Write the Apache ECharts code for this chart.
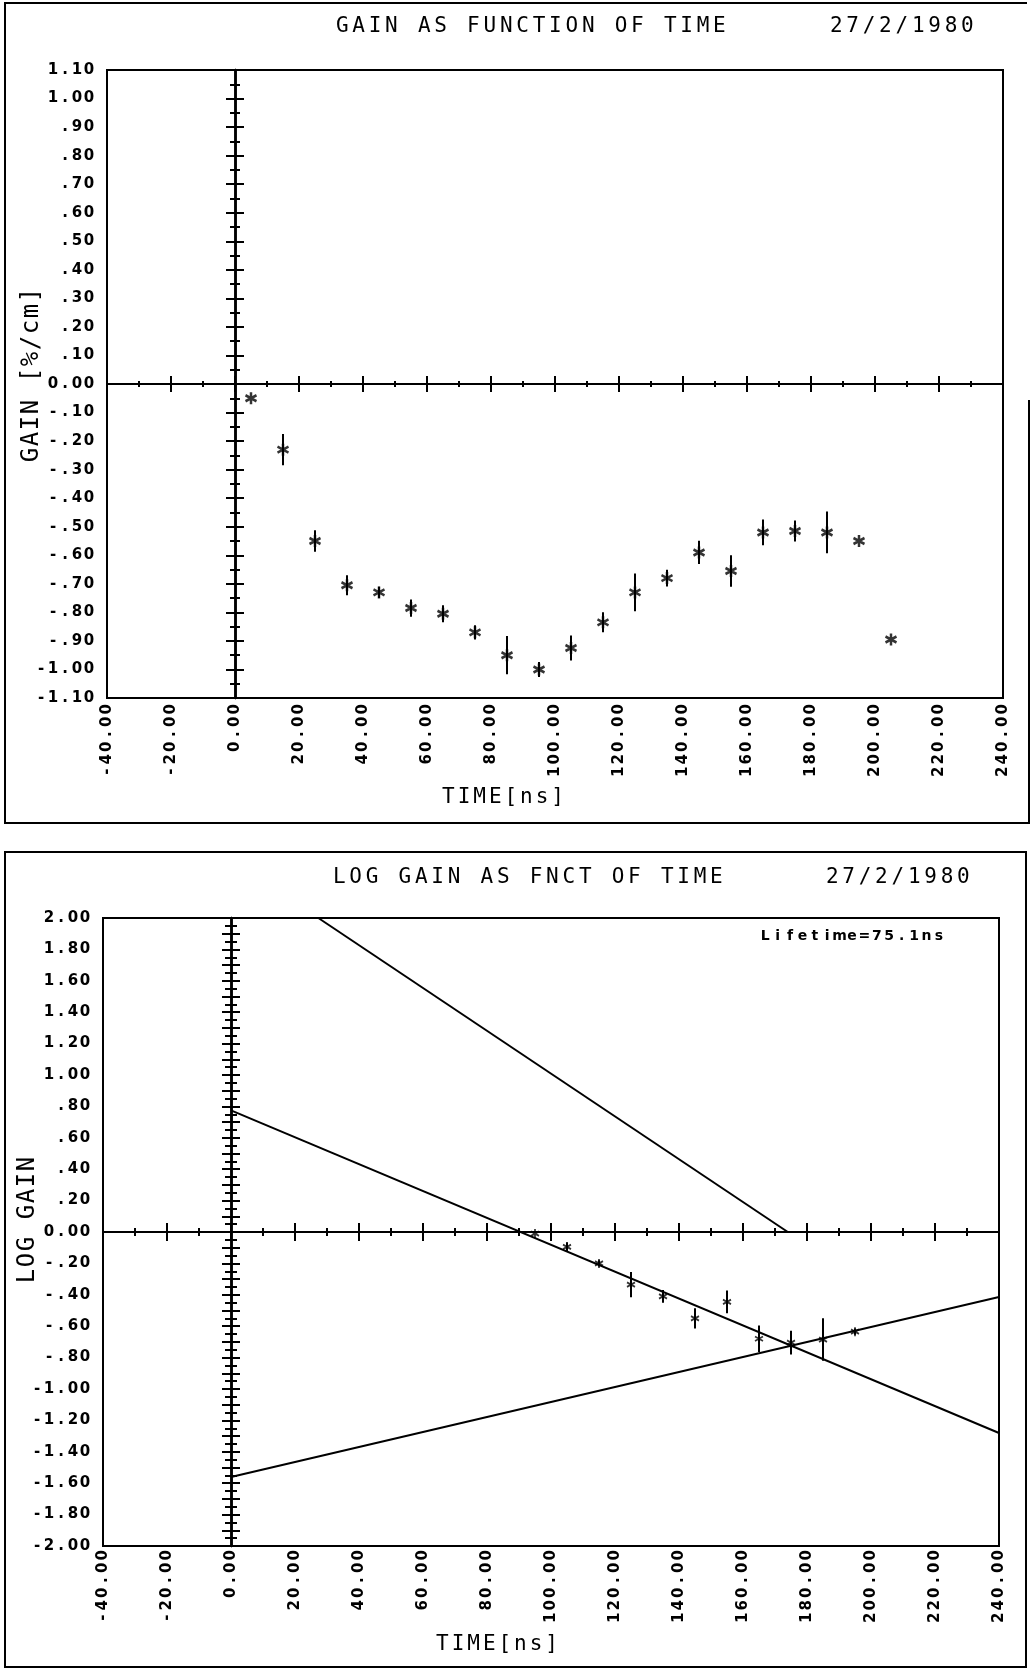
<!DOCTYPE html>
<html>
<head>
<meta charset="utf-8">
<script src="https://cdn.jsdelivr.net/npm/echarts@6/dist/echarts.min.js"></script>
<style>
  html, body { margin: 0; padding: 0; background: #fff; }
  #chart { width: 1030px; height: 1669px; }
</style>
</head>
<body>
<div id="chart"></div>
<script>
// ---- Gain measurements (27/2/1980) ----
const gainTimes  = [5, 15, 25, 35, 45, 55, 65, 75, 85, 95, 105, 115, 125, 135, 145, 155, 165, 175, 185, 195, 205];
const gainValues = [-0.05, -0.23, -0.55, -0.705, -0.73, -0.785, -0.805, -0.87, -0.95, -1.0, -0.925,
                    -0.835, -0.73, -0.68, -0.59, -0.655, -0.52, -0.515, -0.52, -0.55, -0.895];
const gainErrors = [0, 0.055, 0.038, 0.035, 0.02, 0.03, 0.03, 0.025, 0.067, 0.026, 0.044,
                    0.035, 0.066, 0.029, 0.041, 0.055, 0.045, 0.037, 0.073, 0, 0];

// ---- Log gain of the decaying part ----
const logTimes  = [95, 105, 115, 125, 135, 145, 155, 165, 175, 185, 195];
const logValues = [-0.01, -0.095, -0.2, -0.335, -0.41, -0.55, -0.445, -0.68, -0.705, -0.685, -0.635];
const logErrors = [0, 0.03, 0.02, 0.08, 0.04, 0.064, 0.072, 0.085, 0.076, 0.135, 0.02];

// Straight lines of the fit (time ns, log gain)
const fitLine      = [[0, 0.775], [240, -1.28]];
const lifetimeLine = [[27.3, 2.0], [174, 0.0]];
const riseLine     = [[0, -1.56], [240, -0.414]];

// ---- Tick labels ----
const timeTickLabels = ['-40.00', '-20.00', '0.00', '20.00', '40.00', '60.00', '80.00', '100.00',
                        '120.00', '140.00', '160.00', '180.00', '200.00', '220.00', '240.00'];
const gainTickLabels = ['-1.10', '-1.00', '-.90', '-.80', '-.70', '-.60', '-.50', '-.40', '-.30', '-.20', '-.10',
                        '0.00', '.10', '.20', '.30', '.40', '.50', '.60', '.70', '.80', '.90', '1.00', '1.10'];
const logTickLabels  = ['-2.00', '-1.80', '-1.60', '-1.40', '-1.20', '-1.00', '-.80', '-.60', '-.40', '-.20',
                        '0.00', '.20', '.40', '.60', '.80', '1.00', '1.20', '1.40', '1.60', '1.80', '2.00'];

const SANS = 'DejaVu Sans';
const MONO = 'DejaVu Sans Mono';
const INK = '#000';

// Fixed-pitch plotter lettering: every character in its own box of equal width
function spaced(str, key) {
  return str.split('').map(function (ch) { return '{' + key + '|' + ch + '}'; }).join('');
}
function pick(labels, min, step) {
  return function (v) {
    const s = labels[Math.round((v - min) / step)];
    return s === undefined ? '' : spaced(s, 't');
  };
}

const STAR = 'path://M5,0L5,10M0.67,2.5L9.33,7.5M0.67,7.5L9.33,2.5';

function zip2(xs, ys) { return xs.map(function (x, i) { return [x, ys[i]]; }); }
function zip3(xs, ys, es) { return xs.map(function (x, i) { return [x, ys[i], es[i]]; }); }

function errorBars(params, api) {
  const e = api.value(2);
  if (!e) return null;
  const x = api.value(0), y = api.value(1);
  const p1 = api.coord([x, y - e]);
  const p2 = api.coord([x, y + e]);
  return {
    type: 'line',
    shape: { x1: p1[0], y1: p1[1], x2: p2[0], y2: p2[1] },
    style: { stroke: INK, lineWidth: 2 }
  };
}

// ---- Axis builders ----
function labelXAxis(grid, margin) {
  return {
    type: 'value', gridIndex: grid, position: 'bottom', min: -40, max: 240, interval: 20,
    axisLine: { show: false, onZero: false },
    axisTick: { show: false },
    splitLine: { show: false },
    axisLabel: {
      rotate: 90, margin: margin,
      formatter: pick(timeTickLabels, -40, 20),
      rich: { t: { fontFamily: SANS, fontWeight: 'bold', fontSize: 15, width: 12.5, align: 'center', color: INK } }
    }
  };
}
function zeroXAxis(grid, yIndex, inside, majorLen, minorLen) {
  return {
    type: 'value', gridIndex: grid, position: 'bottom', min: -40, max: 240, interval: 20,
    axisLine: { show: true, onZero: true, onZeroAxisIndex: yIndex, lineStyle: { color: INK, width: 2 } },
    axisTick: { show: true, inside: inside, length: majorLen, lineStyle: { color: INK, width: 2 } },
    minorTick: { show: true, splitNumber: 2, length: minorLen, lineStyle: { color: INK, width: 2 } },
    axisLabel: { show: false },
    splitLine: { show: false },
    minorSplitLine: { show: false }
  };
}
function labelYAxis(grid, min, max, step, labels, margin) {
  return {
    type: 'value', gridIndex: grid, position: 'left', min: min, max: max, interval: step,
    axisLine: { show: false, onZero: false },
    axisTick: { show: false },
    splitLine: { show: false },
    axisLabel: {
      margin: margin,
      formatter: pick(labels, min, step),
      rich: { t: { fontFamily: SANS, fontWeight: 'bold', fontSize: 15, width: 12, align: 'center', color: INK } }
    }
  };
}
function zeroYAxis(grid, xIndex, min, max, inside, majorLen, minorLen) {
  return {
    type: 'value', gridIndex: grid, position: 'left', min: min, max: max, interval: 0.1,
    axisLine: { show: true, onZero: true, onZeroAxisIndex: xIndex, lineStyle: { color: INK, width: 2.5 } },
    axisTick: { show: true, inside: inside, length: majorLen, lineStyle: { color: INK, width: 2 } },
    minorTick: { show: true, splitNumber: 2, length: minorLen, lineStyle: { color: INK, width: 2 } },
    axisLabel: { show: false },
    splitLine: { show: false },
    minorSplitLine: { show: false }
  };
}

// ---- Free text (titles, axis names, note) ----
const titleRich = { h: { fontFamily: MONO, fontSize: 21, width: 16.4, align: 'center', fill: INK } };
const nameRich  = { n: { fontFamily: MONO, fontSize: 24, width: 16, align: 'center', fill: INK } };
const timeRich  = { m: { fontFamily: MONO, fontSize: 21, width: 15.6, align: 'center', fill: INK } };
const noteRich  = { s: { fontFamily: SANS, fontWeight: 'bold', fontSize: 14, width: 12.4, align: 'center', fill: INK } };

function label(text, key, rich, x, y, align, rotation) {
  return {
    type: 'text', x: x, y: y, rotation: rotation || 0, z: 10,
    style: {
      text: spaced(text, key), rich: rich,
      align: align, verticalAlign: 'middle',
      textAlign: align, textVerticalAlign: 'middle'
    }
  };
}

const option = {
  animation: false,
  backgroundColor: '#fff',
  grid: [
    { left: 107, top: 70, width: 896, height: 628, show: true, borderColor: INK, borderWidth: 2, containLabel: false },
    { left: 103, top: 918, width: 896, height: 628, show: true, borderColor: INK, borderWidth: 2, containLabel: false }
  ],
  xAxis: [
    labelXAxis(0, 5),
    zeroXAxis(0, 0, true, 8, 3),
    zeroXAxis(0, 0, false, 8, 3),
    labelXAxis(1, 3),
    zeroXAxis(1, 3, true, 9, 4),
    zeroXAxis(1, 3, false, 9, 4)
  ],
  yAxis: [
    labelYAxis(0, -1.1, 1.1, 0.1, gainTickLabels, 12),
    zeroYAxis(0, 0, -1.1, 1.1, true, 9, 5),
    zeroYAxis(0, 0, -1.1, 1.1, false, 9, 5),
    labelYAxis(1, -2, 2, 0.2, logTickLabels, 12),
    zeroYAxis(1, 3, -2, 2, true, 9, 6),
    zeroYAxis(1, 3, -2, 2, false, 9, 6)
  ],
  series: [
    {
      name: 'gain errors', type: 'custom', xAxisIndex: 0, yAxisIndex: 0,
      renderItem: errorBars, data: zip3(gainTimes, gainValues, gainErrors), z: 3
    },
    {
      name: 'gain', type: 'scatter', xAxisIndex: 0, yAxisIndex: 0,
      symbol: STAR, symbolSize: [11, 12],
      itemStyle: { color: 'transparent', borderColor: INK, borderWidth: 2.6 },
      data: zip2(gainTimes, gainValues), z: 4
    },
    {
      name: 'fit', type: 'line', xAxisIndex: 3, yAxisIndex: 3, showSymbol: false, clip: true,
      lineStyle: { color: INK, width: 2 }, data: fitLine, z: 3
    },
    {
      name: 'lifetime', type: 'line', xAxisIndex: 3, yAxisIndex: 3, showSymbol: false, clip: true,
      lineStyle: { color: INK, width: 2 }, data: lifetimeLine, z: 3
    },
    {
      name: 'rise', type: 'line', xAxisIndex: 3, yAxisIndex: 3, showSymbol: false, clip: true,
      lineStyle: { color: INK, width: 2 }, data: riseLine, z: 3
    },
    {
      name: 'log gain errors', type: 'custom', xAxisIndex: 3, yAxisIndex: 3,
      renderItem: errorBars, data: zip3(logTimes, logValues, logErrors), z: 3
    },
    {
      name: 'log gain', type: 'scatter', xAxisIndex: 3, yAxisIndex: 3,
      symbol: STAR, symbolSize: [8, 9],
      itemStyle: { color: 'transparent', borderColor: INK, borderWidth: 1.8 },
      data: zip2(logTimes, logValues), z: 4
    }
  ],
  graphic: [
    // outer frames of the two sheets
    { type: 'polyline', z: 1, shape: { points: [[1029, 400], [1029, 823], [5, 823], [5, 3], [1027, 3]] },
      style: { stroke: INK, lineWidth: 2, fill: null } },
    { type: 'rect', z: 1, shape: { x: 5, y: 852, width: 1021, height: 815 },
      style: { stroke: INK, lineWidth: 2, fill: null } },

    label('GAIN AS FUNCTION OF TIME', 'h', titleRich, 334, 27, 'left'),
    label('27/2/1980', 'h', titleRich, 828, 27, 'left'),
    label('GAIN [%/cm]', 'n', nameRich, 32, 375, 'center', Math.PI / 2),
    label('TIME[ns]', 'm', timeRich, 503, 798, 'center'),

    label('LOG GAIN AS FNCT OF TIME', 'h', titleRich, 331, 878, 'left'),
    label('27/2/1980', 'h', titleRich, 824, 878, 'left'),
    label('Lifetime=75.1ns', 's', noteRich, 759, 936, 'left'),
    label('LOG GAIN', 'n', nameRich, 28, 1220, 'center', Math.PI / 2),
    label('TIME[ns]', 'm', timeRich, 497, 1645, 'center')
  ]
};

const chart = echarts.init(document.getElementById('chart'), null, { renderer: 'canvas' });
chart.setOption(option);
</script>
</body>
</html>
